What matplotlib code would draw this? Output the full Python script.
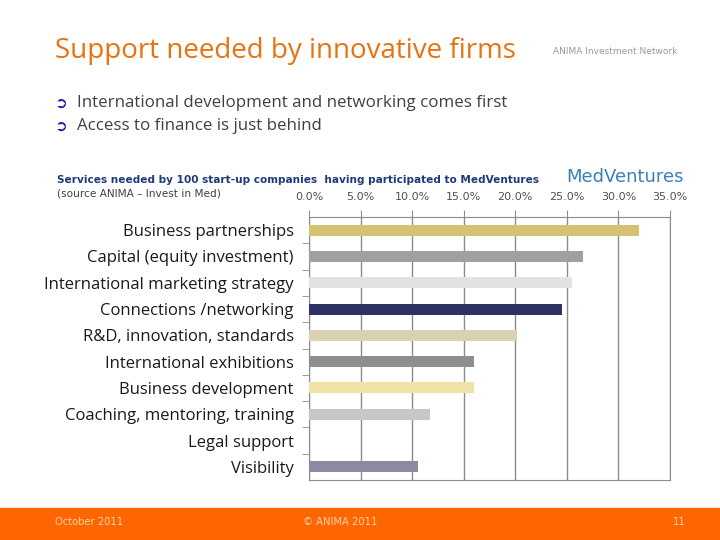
import matplotlib.pyplot as plt
from matplotlib.patches import Rectangle

categories = ["Business partnerships", "Capital (equity investment)",
              "International marketing strategy", "Connections /networking",
              "R&D, innovation, standards", "International exhibitions",
              "Business development", "Coaching, mentoring, training",
              "Legal support", "Visibility"]
values = [32.0, 26.6, 25.5, 24.5, 20.2, 16.0, 16.0, 11.7, 0.0, 10.6]
bar_colors = ["#D4C172", "#A0A0A0", "#E2E2E2", "#2E3163", "#DBD1B0",
              "#8E8E8E", "#F1E3A8", "#C7C7C7", "#C7C7C7", "#8A8AA2"]
x_ticks = [0, 5, 10, 15, 20, 25, 30, 35]

fig = plt.figure(figsize=(7.2, 5.4), dpi=100)

# slide text
fig.text(55 / 720, 1 - 51 / 540, "Support needed by innovative firms",
         color="#E8720F", fontsize=20, family="Open Sans", va="center")
fig.text(553 / 720, 1 - 52 / 540, "ANIMA Investment Network",
         color="#9A9A9A", fontsize=6.5, va="center")
for i, line in enumerate(["International development and networking comes first",
                          "Access to finance is just behind"]):
    y = 1 - (103 + i * 23) / 540
    fig.text(55 / 720, y, "➲", color="#1A1AA6", fontsize=11, va="center")
    fig.text(77 / 720, y, line, color="#404040", fontsize=12.2,
             family="Open Sans", va="center")

fig.text(57 / 720, 1 - 180 / 540,
         "Services needed by 100 start-up companies  having participated to MedVentures",
         color="#1F3A7A", fontsize=7.6, weight="bold", va="center")
fig.text(57 / 720, 1 - 193 / 540, "(source ANIMA – Invest in Med)",
         color="#404040", fontsize=7.6, va="center")
fig.text(566 / 720, 1 - 177 / 540, "MedVentures", color="#3A7FB8",
         fontsize=13, va="center")

# chart
ax = fig.add_axes([309 / 720, 1 - 480 / 540, 361 / 720, 263 / 540])
ypos = list(range(len(categories)))
ax.barh(ypos, values, height=0.42, color=bar_colors, zorder=3)
ax.set_xlim(0, 35)
ax.set_ylim(len(categories) - 0.5, -0.5)
ax.set_xticks(x_ticks)
ax.set_xticklabels([f"{t:.1f}%" for t in x_ticks], color="#505050", fontsize=8)
ax.xaxis.tick_top()
ax.tick_params(axis="x", direction="out", length=5, color="#8C8C8C", pad=6)
ax.grid(axis="x", color="#8C8C8C", linewidth=1, zorder=0)
ax.set_yticks(ypos)
ax.set_yticklabels(categories, fontsize=12, color="#1A1A1A", family="Open Sans")
ax.tick_params(axis="y", length=0, pad=11)
ax.set_yticks([p + 0.5 for p in ypos[:-1]], minor=True)
ax.tick_params(axis="y", which="minor", length=5, color="#8C8C8C")
for s in ax.spines.values():
    s.set_color("#8C8C8C")

# footer
fig.patches.append(Rectangle((0, 0), 1, 32 / 540, transform=fig.transFigure,
                             color="#FF6600", zorder=0))
fig.text(55 / 720, 1 - 522 / 540, "October 2011", color="#FFD2A8", fontsize=7.2, va="center")
fig.text(340 / 720, 1 - 522 / 540, "© ANIMA 2011", color="#FFD2A8", fontsize=7.2,
         va="center", ha="center")
fig.text(686 / 720, 1 - 522 / 540, "11", color="#FFD2A8", fontsize=7.2,
         va="center", ha="right")

fig.savefig("out.png", dpi=100)
